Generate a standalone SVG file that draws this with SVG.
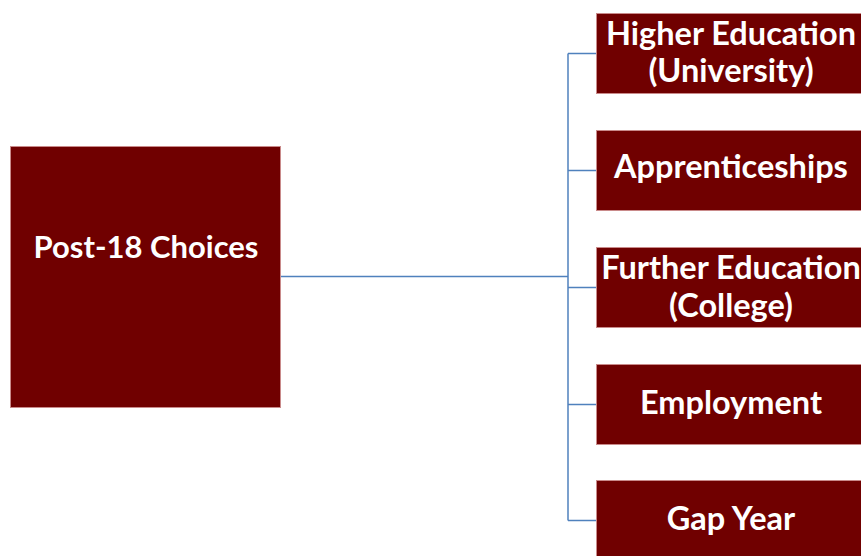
<svg xmlns="http://www.w3.org/2000/svg" width="861" height="556" viewBox="0 0 861 556">
  <style>
    .box { fill: #700000; stroke: #c98a8a; stroke-width: 1; }
    .label { font-family: Lato, "Noto Sans", "Liberation Sans", sans-serif; font-weight: bold; font-size: 32.5px; fill: #ffffff; text-anchor: middle; }
    .root { font-size: 31px; }
    .wire { fill: none; stroke: #4f81bd; stroke-width: 1.5; }
  </style>
  <rect width="861" height="556" fill="#ffffff"/>

  <g id="connectors">
    <path class="wire" d="M281 276.5 H568"/>
    <path class="wire" d="M568 53.5 V520.5"/>
    <path class="wire" d="M568 53.5 H596 M568 170.5 H596 M568 287.5 H596 M568 404.5 H596 M568 520.5 H596"/>
  </g>

  <g id="post18">
    <rect class="box" x="10.5" y="146.5" width="270" height="261"/>
    <text class="label root" x="146" y="258">Post-18 Choices</text>
  </g>

  <g id="higher-education">
    <rect class="box" x="596.5" y="13.5" width="270" height="80"/>
    <text class="label" x="731" y="45">Higher Education</text>
    <text class="label" x="731" y="82">(University)</text>
  </g>

  <g id="apprenticeships">
    <rect class="box" x="596.5" y="130.5" width="270" height="80"/>
    <text class="label" x="731" y="178">Apprenticeships</text>
  </g>

  <g id="further-education">
    <rect class="box" x="596.5" y="247.5" width="270" height="80"/>
    <text class="label" x="731" y="279">Further Education</text>
    <text class="label" x="731" y="317">(College)</text>
  </g>

  <g id="employment">
    <rect class="box" x="596.5" y="364.5" width="270" height="80"/>
    <text class="label" x="731" y="414">Employment</text>
  </g>

  <g id="gap-year">
    <rect class="box" x="596.5" y="480.5" width="270" height="82"/>
    <text class="label" x="731" y="530">Gap Year</text>
  </g>
</svg>
